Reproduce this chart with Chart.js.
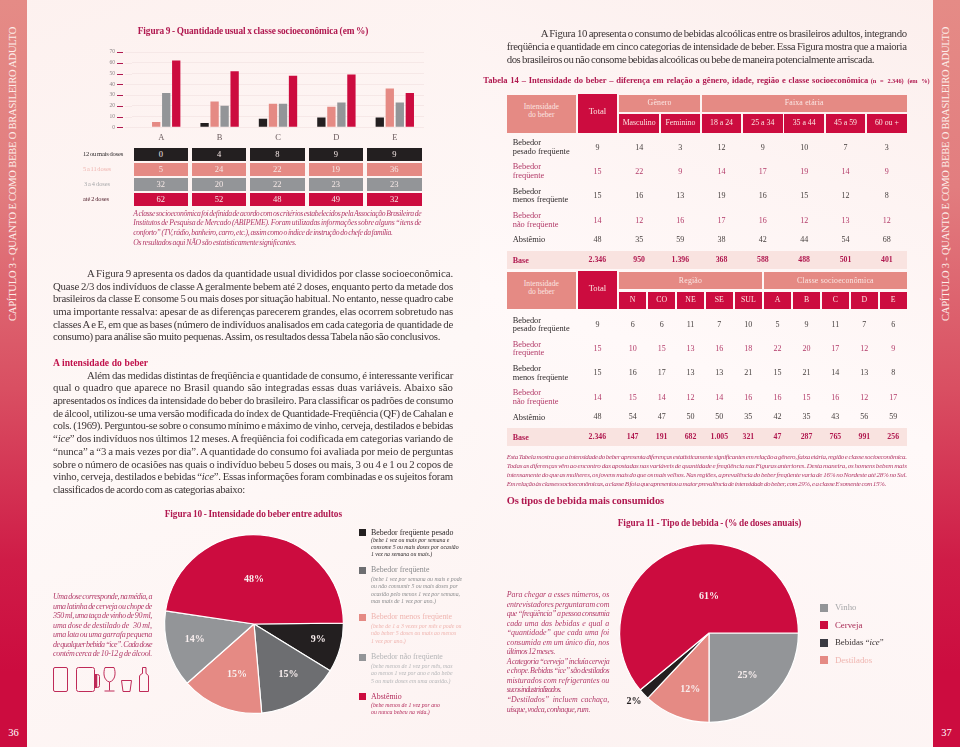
<!DOCTYPE html>
<html>
<head>
<meta charset="utf-8">
<script src="https://cdn.jsdelivr.net/npm/chart.js@4"></script>
<style>
html,body{margin:0;padding:0;}
body{position:relative;width:960px;height:747px;overflow:hidden;background:#fff;font-family:"Liberation Serif",serif;}
#pageL,#pageR{position:absolute;top:0;height:747px;width:480px;}
#pageL{left:0;background:linear-gradient(160deg,#fdf1ef 0%,#fef8f7 55%,#fdf3f2 100%);}
#pageR{left:480px;background:linear-gradient(200deg,#fcefed 0%,#fff9f9 50%,#fcf2f1 100%);}
.side{position:absolute;top:0;width:27px;height:747px;background:linear-gradient(to bottom,#e58b86 0%,#e27d7f 25%,#d94f62 52%,#cf1c47 75%,#cc0c3f 90%);}
.vert{position:absolute;top:321px;transform-origin:0 0;transform:rotate(-90deg);white-space:nowrap;color:#fdeeea;font-size:10.5px;line-height:14px;}
.pg{position:absolute;top:726px;width:27px;text-align:center;color:#fff;font-size:10.5px;line-height:14px;}
.ln{position:absolute;white-space:nowrap;}
.cell{position:absolute;color:#fff;display:flex;align-items:center;justify-content:center;text-align:center;}
.sw{position:absolute;}
canvas{position:absolute;}
svg{position:absolute;left:0;top:0;}
</style>
</head>
<body>
<div id="pageL"></div><div id="pageR"></div>
<div class="side" style="left:0"></div><div class="side" style="left:933px"></div>
<div class="vert" style="left:6px" id="vertL">CAPÍTULO 3 - QUANTO E COMO BEBE O BRASILEIRO ADULTO</div>
<div class="vert" style="left:939px" id="vertR">CAPÍTULO 3 - QUANTO E COMO BEBE O BRASILEIRO ADULTO</div>
<div class="pg" style="left:0">36</div><div class="pg" style="left:933px">37</div>
<canvas id="fig9" width="330" height="105" style="left:100px;top:44px;width:330px;height:105px"></canvas>
<canvas id="fig10" width="200" height="200" style="left:154px;top:524px;width:200px;height:200px"></canvas>
<canvas id="fig11" width="200" height="200" style="left:609px;top:533px;width:200px;height:200px"></canvas>
<svg width="960" height="747" fill="none" stroke="#bf2a58" stroke-width="1">
  <rect x="53.5" y="667.5" width="14" height="24" rx="1.5"/>
  <rect x="76.5" y="667.5" width="18" height="24" rx="2"/>
  <path d="M94.5 674.5h3a2 2 0 0 1 2 2v9a2 2 0 0 1-2 2h-3"/>
  <path d="M94.5 675v12" stroke-width="2.5" transform="translate(1.5 0)"/>
  <path d="M105 667.5h9c2 5 1.500 13-4.500 14.500c-6-1.500-6.500-9.500-4.500-14.500zM109.500 682v8.500M104.500 691h10"/>
  <path d="M121.500 680.500h10l-1.500 11h-7z"/>
  <path d="M142.500 667.500h3.500v6c2 1 2.500 2 2.500 3.500v14.500h-9v-14.500c0-1.500.5-2.500 3-3.500z"/>
</svg>
<div id="txt"></div>

<script>
// Figura 9
const classes = ['A', 'B', 'C', 'D', 'E'];
const doses12 = [0, 4, 8, 9, 9];
const doses5a11 = [5, 24, 22, 19, 36];
const doses3a4 = [32, 20, 22, 23, 23];
const doses2 = [62, 52, 48, 49, 32];
const yTicks = [0, 10, 20, 30, 40, 50, 60, 70];

// Figura 10
const intensidadeNomes = ['Bebedor freqüente pesado', 'Bebedor freqüente', 'Bebedor menos freqüente', 'Bebedor não freqüente', 'Abstêmio'];
const intensidadeValores = [9, 15, 15, 14, 48];

// Figura 11
const bebidaNomes = ['Vinho', 'Cerveja', 'Bebidas “<i>ice</i>”', 'Destilados'];
const bebidaValores = [25, 61, 2, 12];

// Tabela 14
const linhasTabela = [['Bebedor', 'pesado freqüente'], ['Bebedor', 'freqüente'], ['Bebedor', 'menos freqüente'], ['Bebedor', 'não freqüente'], ['Abstêmio']];
const generoIdade = ['Masculino', 'Feminino', '18 a 24', '25 a 34', '35 a 44', '45 a 59', '60 ou +'];
const t1Pesado = [9, 14, 3, 12, 9, 10, 7, 3];
const t1Freq = [15, 22, 9, 14, 17, 19, 14, 9];
const t1Menos = [15, 16, 13, 19, 16, 15, 12, 8];
const t1Nao = [14, 12, 16, 17, 16, 12, 13, 12];
const t1Abst = [48, 35, 59, 38, 42, 44, 54, 68];
const t1Base = ['2.346', '950', '1.396', '368', '588', '488', '501', '401'];
const regiaoClasse = ['N', 'CO', 'NE', 'SE', 'SUL', 'A', 'B', 'C', 'D', 'E'];
const t2Pesado = [9, 6, 6, 11, 7, 10, 5, 9, 11, 7, 6];
const t2Freq = [15, 10, 15, 13, 16, 18, 22, 20, 17, 12, 9];
const t2Menos = [15, 16, 17, 13, 13, 21, 15, 21, 14, 13, 8];
const t2Nao = [14, 15, 14, 12, 14, 16, 16, 15, 16, 12, 17];
const t2Abst = [48, 54, 47, 50, 50, 35, 42, 35, 43, 56, 59];
const t2Base = ['2.346', '147', '191', '682', '1.005', '321', '47', '287', '765', '991', '256'];

const PRETO = '#231f20', ROSA = '#e58a84', CINZA = '#939598', CINZA2 = '#6d6e71', VERM = '#cc0c3f';
const TXT = '#3c3536', VINHO = '#b23a68';
const box = document.getElementById('txt');

// puts one text line at x, centred on y, and stretches it to width w when given
function line(x, y, w, text, size, color, extra) {
    const d = document.createElement('div');
    d.className = 'ln';
    d.style.cssText = `left:${x}px;top:${y - size * 0.6}px;font-size:${size}px;line-height:${size * 1.2}px;color:${color};${extra || ''}`;
    d.innerHTML = text;
    box.appendChild(d);
    if (w) {
        const nat = d.getBoundingClientRect().width;
        const spaces = (text.replace(/<[^>]+>/g, '').match(/ /g) || []).length || 1;
        let ws = (w - nat) / spaces;
        if (ws < -0.6) {
            const chars = text.replace(/<[^>]+>/g, '').length;
            d.style.letterSpacing = ((w - nat + 0.6 * spaces) / chars) + 'px';
            ws = -0.6;
        }
        d.style.wordSpacing = ws + 'px';
    }
    return d;
}
function block(x, w, ys, lines, size, color, extra, shortEnds) {
    lines.forEach((t, i) => {
        const ww = shortEnds && shortEnds[i] ? shortEnds[i] - x : w;
        line(x, ys[i], ww, t, size, color, extra);
    });
}
function cell(x0, x1, y0, y1, bg, text, size, color, extra) {
    const d = document.createElement('div');
    d.className = 'cell';
    d.style.cssText = `left:${x0}px;top:${y0}px;width:${x1 - x0}px;height:${y1 - y0}px;background:${bg};font-size:${size}px;line-height:${size + 0.4}px;color:${color || '#fff'};${extra || ''}`;
    d.innerHTML = text;
    box.appendChild(d);
}
function swatch(x, yc, s, color) {
    const d = document.createElement('div');
    d.className = 'sw';
    d.style.cssText = `left:${x}px;top:${yc - s / 2}px;width:${s}px;height:${s}px;background:${color}`;
    box.appendChild(d);
}

// titles
const BOLD = 'font-weight:bold;';
line(137.7, 31.7, 230.6, 'Figura 9 - Quantidade usual x classe socioeconômica (em %)', 9.3, '#b0184f', BOLD);
line(164.7, 514.7, 177.3, 'Figura 10 - Intensidade do beber entre adultos', 9.3, '#b0184f', BOLD);
line(617.7, 524, 183.6, 'Figura 11 - Tipo de bebida - (% de doses anuais)', 9.3, '#b0184f', BOLD);
line(53, 362.3, 95, 'A intensidade do beber', 9.6, '#c0104a', BOLD);
line(506.7, 501.7, 157.5, 'Os tipos de bebida mais consumidos', 10.5, '#b0184f', BOLD);
line(483.3, 80, 385, 'Tabela 14 – Intensidade do beber – diferença em relação a gênero, idade, região e classe socioeconômica', 8.5, '#b0184f', BOLD);
line(870.7, 80.3, 59, '(n = 2.346) (em %)', 6.3, '#b0184f', BOLD);

// fig 9 table under the bars
const doseCols = [[133.5, 188], [192, 246], [250, 304.5], [308.5, 363], [367, 421.5]];
[[doses12, PRETO, 148, 161], [doses5a11, ROSA, 163, 175.5], [doses3a4, CINZA, 178, 190.5], [doses2, VERM, 193, 205.5]].forEach(r => {
    r[0].forEach((v, i) => cell(doseCols[i][0], doseCols[i][1], r[2], r[3], r[1], v, 8.5, '#f5e8e6'));
});
line(83, 154.3, 40, '12 ou mais doses', 6.6, '#2e2a2b');
line(83, 169.3, 28, '5 a 11 doses', 6.4, '#efb5b0');
line(84, 184.3, 26, '3 a 4 doses', 6.4, '#a7a8aa');
line(83, 199, 26, 'até 2 doses', 6.4, '#54232f');
block(133.3, 288, [213.3, 223, 232.6, 242.3], [
    'A classe socioeconômica foi definida de acordo com os critérios estabelecidos pela Associação Brasileira de',
    'Institutos de Pesquisa de Mercado (ABIPEME). Foram utilizadas informações sobre alguns “itens de',
    'conforto” (TV, rádio, banheiro, carro, etc.), assim como o índice de instrução do chefe da família.',
    'Os resultados aqui NÃO são estatisticamente significantes.'
], 7.7, VINHO, 'font-style:italic;', [0, 0, 392.6, 296.5]);

// left body text
line(87, 273.3, 366, 'A Figura 9 apresenta os dados da quantidade usual divididos por classe socioeconômica.', 10.8, TXT);
block(53, 400, [286, 298.7, 311.3, 324, 336.7], [
    'Quase 2/3 dos indivíduos de classe A geralmente bebem até 2 doses, enquanto perto da metade dos',
    'brasileiros da classe E consome 5 ou mais doses por situação habitual. No entanto, nesse quadro cabe',
    'uma importante ressalva: apesar de as diferenças parecerem grandes, elas ocorrem sobretudo nas',
    'classes A e E, em que as bases (número de indivíduos analisados em cada categoria de quantidade de',
    'consumo) para análise são muito pequenas. Assim, os resultados dessa Tabela não são conclusivos.'
], 10.8, TXT, '', [0, 0, 0, 0, 440]);
line(87, 375, 366, 'Além das medidas distintas de freqüência e quantidade de consumo, é interessante verificar', 10.8, TXT);
block(53, 400, [387.7, 400.3, 413, 425.7, 438.3, 451.3, 464, 476.7, 489.3], [
    'qual o quadro que aparece no Brasil quando são integradas essas duas variáveis. Abaixo são',
    'apresentados os índices da intensidade do beber do brasileiro. Para classificar os padrões de consumo',
    'de álcool, utilizou-se uma versão modificada do índex de Quantidade-Freqüência (QF) de Cahalan e',
    'cols. (1969). Perguntou-se sobre o consumo mínimo e máximo de vinho, cerveja, destilados e bebidas',
    '“<i>ice</i>” dos indivíduos nos últimos 12 meses. A freqüência foi codificada em categorias variando de',
    '“nunca” a “3 a mais vezes por dia”. A quantidade do consumo foi avaliada por meio de perguntas',
    'sobre o número de ocasiões nas quais o indivíduo bebeu 5 doses ou mais, 3 ou 4 e 1 ou 2 copos de',
    'vinho, cerveja, destilados e bebidas “<i>ice</i>”. Essas informações foram combinadas e os sujeitos foram',
    'classificados de acordo com as categorias abaixo:'
], 10.8, TXT, '', [0, 0, 0, 0, 0, 0, 0, 0, 245]);

// dose note
block(53, 99, [596.7, 606.3, 615.7, 625.3, 635, 644.7, 654], [
    'Uma dose corresponde, na média, a',
    'uma latinha de cerveja ou chope de',
    '350 ml, uma taça de vinho de 90 ml,',
    'uma dose de destilado de &nbsp; 30 ml,',
    'uma lata ou uma garrafa pequena',
    'de qualquer bebida “ice”. Cada dose',
    'contém cerca de 10-12 g de álcool.'
], 8, VINHO, 'font-style:italic;');

// fig 10 legend
const legend10 = [
    [PRETO, '#2c2829', 532.3, [['(bebe 1 vez ou mais por semana e', 540], ['consome 5 ou mais doses por ocasião', 547.3], ['1 vez na semana ou mais.)', 554.7]]],
    [CINZA2, '#8a8b8d', 570, [['(bebe 1 vez por semana ou mais e pode', 579], ['ou não consumir 5 ou mais doses por', 586.3], ['ocasião pelo menos 1 vez por semana,', 594], ['mas mais de 1 vez por ano.)', 601]]],
    [ROSA, '#efb5b0', 617, [['(bebe de 1 a 3 vezes por mês e pode ou', 626.3], ['não beber 5 doses ou mais ao menos', 633.7], ['1 vez por ano.)', 641.3]]],
    [CINZA, '#b4b5b7', 657, [['(bebe menos de 1 vez por mês, mas', 666], ['ao menos 1 vez por ano e não bebe', 673.7], ['5 ou mais doses em uma ocasião.)', 681]]],
    [VERM, '#b32b5b', 696.3, [['(bebe menos de 1 vez por ano', 705], ['ou nunca bebeu na vida.)', 712.7]]]
];
legend10.forEach((l, i) => {
    swatch(358.5, l[2], 7, l[0]);
    line(371, l[2], 0, intensidadeNomes[i], 7.9, l[1]);
    l[3].forEach(s => line(371, s[1], 0, s[0], 5.8, l[1], 'font-style:italic;'));
});

// right body text
line(540.7, 33.3, 366, 'A Figura 10 apresenta o consumo de bebidas alcoólicas entre os brasileiros adultos, integrando', 10.8, TXT);
line(506.7, 46.3, 400, 'freqüência e quantidade em cinco categorias de intensidade de beber. Essa Figura mostra que a maioria', 10.8, TXT);
line(506.7, 59, 367.3, 'dos brasileiros ou não consome bebidas alcoólicas ou bebe de maneira potencialmente arriscada.', 10.8, TXT);

// Tabela 14, both halves
function tabela(y0, split, y1, topA, subs, subCols, rows, baseRow, rowYs, labelYs, bandY) {
    cell(506.7, 576, y0, y1, ROSA, 'Intensidade<br>do beber', 7.6, '#fbe4e0', 'padding-bottom:6px;box-sizing:border-box;');
    cell(578, 617, y0 - 0.7, y1, VERM, 'Total', 8.6, '#fbe4e0', 'padding-bottom:3px;box-sizing:border-box;');
    topA.forEach(t => cell(t[1], t[2], y0, split, ROSA, t[0], 7.8, '#fbe8e5', 'letter-spacing:.2px;'));
    subs.forEach((s, i) => cell(subCols[i][0], subCols[i][1], split + 2.3, y1, VERM, s, 7.8, '#fbe4e0'));
    const centers = [597.4].concat(subCols.map(c => (c[0] + c[1]) / 2));
    cell(506.7, 906.7, bandY, bandY + 17.7, '#f9e3e0', '', 8, '#fff');
    rows.forEach((r, j) => {
        const col = j % 2 ? VINHO : '#47403f';
        r.forEach((v, i) => cell(centers[i] - 15, centers[i] + 15, rowYs[j] - 6, rowYs[j] + 6, 'transparent', v, 8, col));
        linhasTabela[j].forEach((t, k) => line(512.7, labelYs[j][k], 0, t, 8.4, j % 2 ? VINHO : '#2f2a2b'));
    });
    baseRow.forEach((v, i) => cell(centers[i] - 18, centers[i] + 18, rowYs[5] - 6, rowYs[5] + 6, 'transparent', v, 7.8, '#b0184f', BOLD));
    line(512.7, rowYs[5], 0, 'Base', 8, '#b0184f', BOLD);
}
tabela(94.7, 112, 132.7, [['Gênero', 619.3, 700], ['Faixa etária', 701.7, 906.7]], generoIdade,
    [[619.3, 659], [660.7, 700], [701.7, 741.3], [743, 782.7], [784.3, 824], [825.7, 865.3], [867, 906.7]],
    [t1Pesado, t1Freq, t1Menos, t1Nao, t1Abst], t1Base,
    [148, 172, 196.7, 221.3, 240.3, 260.3],
    [[143.3, 151.7], [167.3, 175.7], [192, 200.3], [216.3, 224.7], [240.3]], 251.3);
tabela(272, 289.3, 309.3, [['Região', 619.3, 761.7], ['Classe socioeconômica', 764, 906.7]], regiaoClasse,
    [[619.3, 646], [648.3, 675], [677.3, 703.7], [706, 732.7], [735, 761.7], [764, 791], [793, 820], [822, 848.7], [851, 877.7], [879.7, 906.7]],
    [t2Pesado, t2Freq, t2Menos, t2Nao, t2Abst], t2Base,
    [325.3, 349.3, 373.7, 398.3, 417.7, 437.3],
    [[320.7, 329], [344.7, 353], [369.3, 377.7], [393.3, 401.7], [417.7]], 428);

block(506.7, 400, [457.3, 466.3, 475, 484], [
    'Esta Tabela mostra que a intensidade do beber apresenta diferenças estatisticamente significantes em relação a gênero, faixa etária, região e classe socioeconômica.',
    'Todas as diferenças vêm ao encontro das apostadas nas variáveis de quantidade e freqüência nas Figuras anteriores. Desta maneira, os homens bebem mais',
    'intensamente do que as mulheres, os jovens mais do que os mais velhos. Nas regiões, a prevalência do beber freqüente varia de 16% no Nordeste até 28% no Sul.',
    'Em relação às classes socioeconômicas, a classe B foi a que apresentou a maior prevalência de intensidade do beber, com 29%, e a classe E somente com 15%.'
], 7, VINHO, 'font-style:italic;', [0, 0, 0, 886]);

block(506.7, 102.6, [595, 604.3, 613.7, 623.3, 633, 642.3, 652, 661.3, 671, 680.7, 690, 699.7, 709.3], [
    'Para chegar a esses números, os',
    'entrevistadores perguntaram com',
    'que “freqüência” a pessoa consumia',
    'cada uma das bebidas e qual a',
    '“quantidade” que cada uma foi',
    'consumida em um único dia, nos',
    'últimos 12 meses.',
    'A categoria “cerveja” incluía cerveja',
    'e chope. Bebidas “ice” são destilados',
    'misturados com refrigerantes ou',
    'sucos industrializados.',
    '“Destilados” incluem cachaça,',
    'uísque, vodca, conhaque, rum.'
], 7.9, VINHO, 'font-style:italic;', [0, 0, 0, 0, 0, 0, 555, 0, 0, 0, 561, 0, 590]);

// fig 11 legend
[[CINZA, '#a7a8aa', 607.7], [VERM, '#a82a55', 625], ['#3a3a42', '#3c3536', 642.7], [ROSA, '#efb5b0', 660]].forEach((l, i) => {
    swatch(820, l[2], 8.3, l[0]);
    line(835, l[2], 0, bebidaNomes[i], 8.8, l[1]);
});

// fit the sidebars text
['vertL', 'vertR'].forEach(id => {
    const v = document.getElementById(id);
    const nat = v.offsetWidth;
    v.style.letterSpacing = ((294 - nat) / v.textContent.length) + 'px';
});

Chart.defaults.font.family = '"Liberation Serif", serif';
Chart.defaults.animation = false;

// red dash and short pale stub next to each y tick
const redTicks = {
    id: 'redTicks',
    afterDatasetsDraw(chart) {
        const y = chart.scales.y, ctx = chart.ctx, left = chart.chartArea.left;
        ctx.save();
        ctx.lineWidth = 1;
        y.ticks.forEach(t => {
            const p = Math.round(y.getPixelForValue(t.value)) + 0.5;
            ctx.strokeStyle = '#b0184f';
            ctx.beginPath();
            ctx.moveTo(left - 15, p);
            ctx.lineTo(left - 9, p);
            ctx.stroke();
            ctx.strokeStyle = '#f6e8e7';
            ctx.beginPath();
            ctx.moveTo(left - 7, p);
            ctx.lineTo(left, p);
            ctx.stroke();
        });
        ctx.restore();
    }
};

new Chart(document.getElementById('fig9').getContext('2d'), {
    type: 'bar',
    data: {
        labels: classes,
        datasets: [
            { label: '12 ou mais doses', data: doses12, backgroundColor: PRETO },
            { label: '5 a 11 doses', data: doses5a11, backgroundColor: ROSA },
            { label: '3 a 4 doses', data: doses3a4, backgroundColor: CINZA },
            { label: 'até 2 doses', data: doses2, backgroundColor: VERM }
        ]
    },
    options: {
        responsive: false,
        layout: { padding: { top: 8, right: 6, left: 0, bottom: 0 } },
        datasets: { bar: { categoryPercentage: 0.686, barPercentage: 0.83 } },
        plugins: { legend: { display: false }, tooltip: { enabled: false } },
        scales: {
            x: {
                afterFit: s => { s.height = 21.7; },
                grid: { display: false, drawTicks: false },
                border: { display: false },
                ticks: { color: '#6b5c5e', font: { size: 8.5 }, padding: 5 }
            },
            y: {
                min: 0, max: 70,
                afterFit: s => { s.width = 32; },
                afterBuildTicks: s => { s.ticks = yTicks.map(v => ({ value: v })); },
                grid: { color: '#f6e8e7', tickColor: 'transparent', tickLength: 15 },
                border: { display: false },
                ticks: { color: '#8d8587', font: { size: 5.5 }, padding: 2, autoSkip: false }
            }
        }
    },
    plugins: [redTicks]
});

// pie labels, placed by offsets relative to the pie radius
const pieLabels = {
    id: 'pieLabels',
    afterDatasetsDraw(chart, args, opts) {
        const arcs = chart.getDatasetMeta(0).data, ctx = chart.ctx;
        ctx.save();
        ctx.font = 'bold 10px "Liberation Serif", serif';
        ctx.textAlign = 'center';
        ctx.textBaseline = 'middle';
        arcs.forEach((a, i) => {
            ctx.fillStyle = opts.colors ? opts.colors[i] : '#f8eeee';
            const o = opts.offsets[i];
            ctx.fillText(chart.data.datasets[0].data[i] + '%', a.x + o[0] * a.outerRadius, a.y + o[1] * a.outerRadius);
        });
        ctx.restore();
    }
};

new Chart(document.getElementById('fig10').getContext('2d'), {
    type: 'pie',
    data: {
        labels: intensidadeNomes,
        datasets: [{ data: intensidadeValores, backgroundColor: [PRETO, CINZA2, ROSA, CINZA, VERM], borderColor: '#fff', borderWidth: 1.2 }]
    },
    options: {
        responsive: false,
        rotation: 89.5,
        layout: { padding: 10 },
        plugins: {
            legend: { display: false }, tooltip: { enabled: false },
            pieLabels: { offsets: [[0.72, 0.167], [0.385, 0.563], [-0.19, 0.563], [-0.663, 0.167], [0, -0.5]] }
        }
    },
    plugins: [pieLabels]
});

new Chart(document.getElementById('fig11').getContext('2d'), {
    type: 'pie',
    data: {
        labels: ['Vinho', 'Destilados', 'Bebidas ice', 'Cerveja'],
        datasets: [{ data: [bebidaValores[0], bebidaValores[3], bebidaValores[2], bebidaValores[1]], backgroundColor: [CINZA, ROSA, PRETO, VERM], borderColor: '#fff', borderWidth: 1.2 }]
    },
    options: {
        responsive: false,
        rotation: 90,
        layout: { padding: 10 },
        plugins: {
            legend: { display: false }, tooltip: { enabled: false },
            pieLabels: { offsets: [[0.43, 0.47], [-0.21, 0.63], [-0.84, 0.76], [0, -0.41]], colors: ['#f8eeee', '#f8eeee', PRETO, '#f8eeee'] }
        }
    },
    plugins: [pieLabels]
});
</script>
</body>
</html>
